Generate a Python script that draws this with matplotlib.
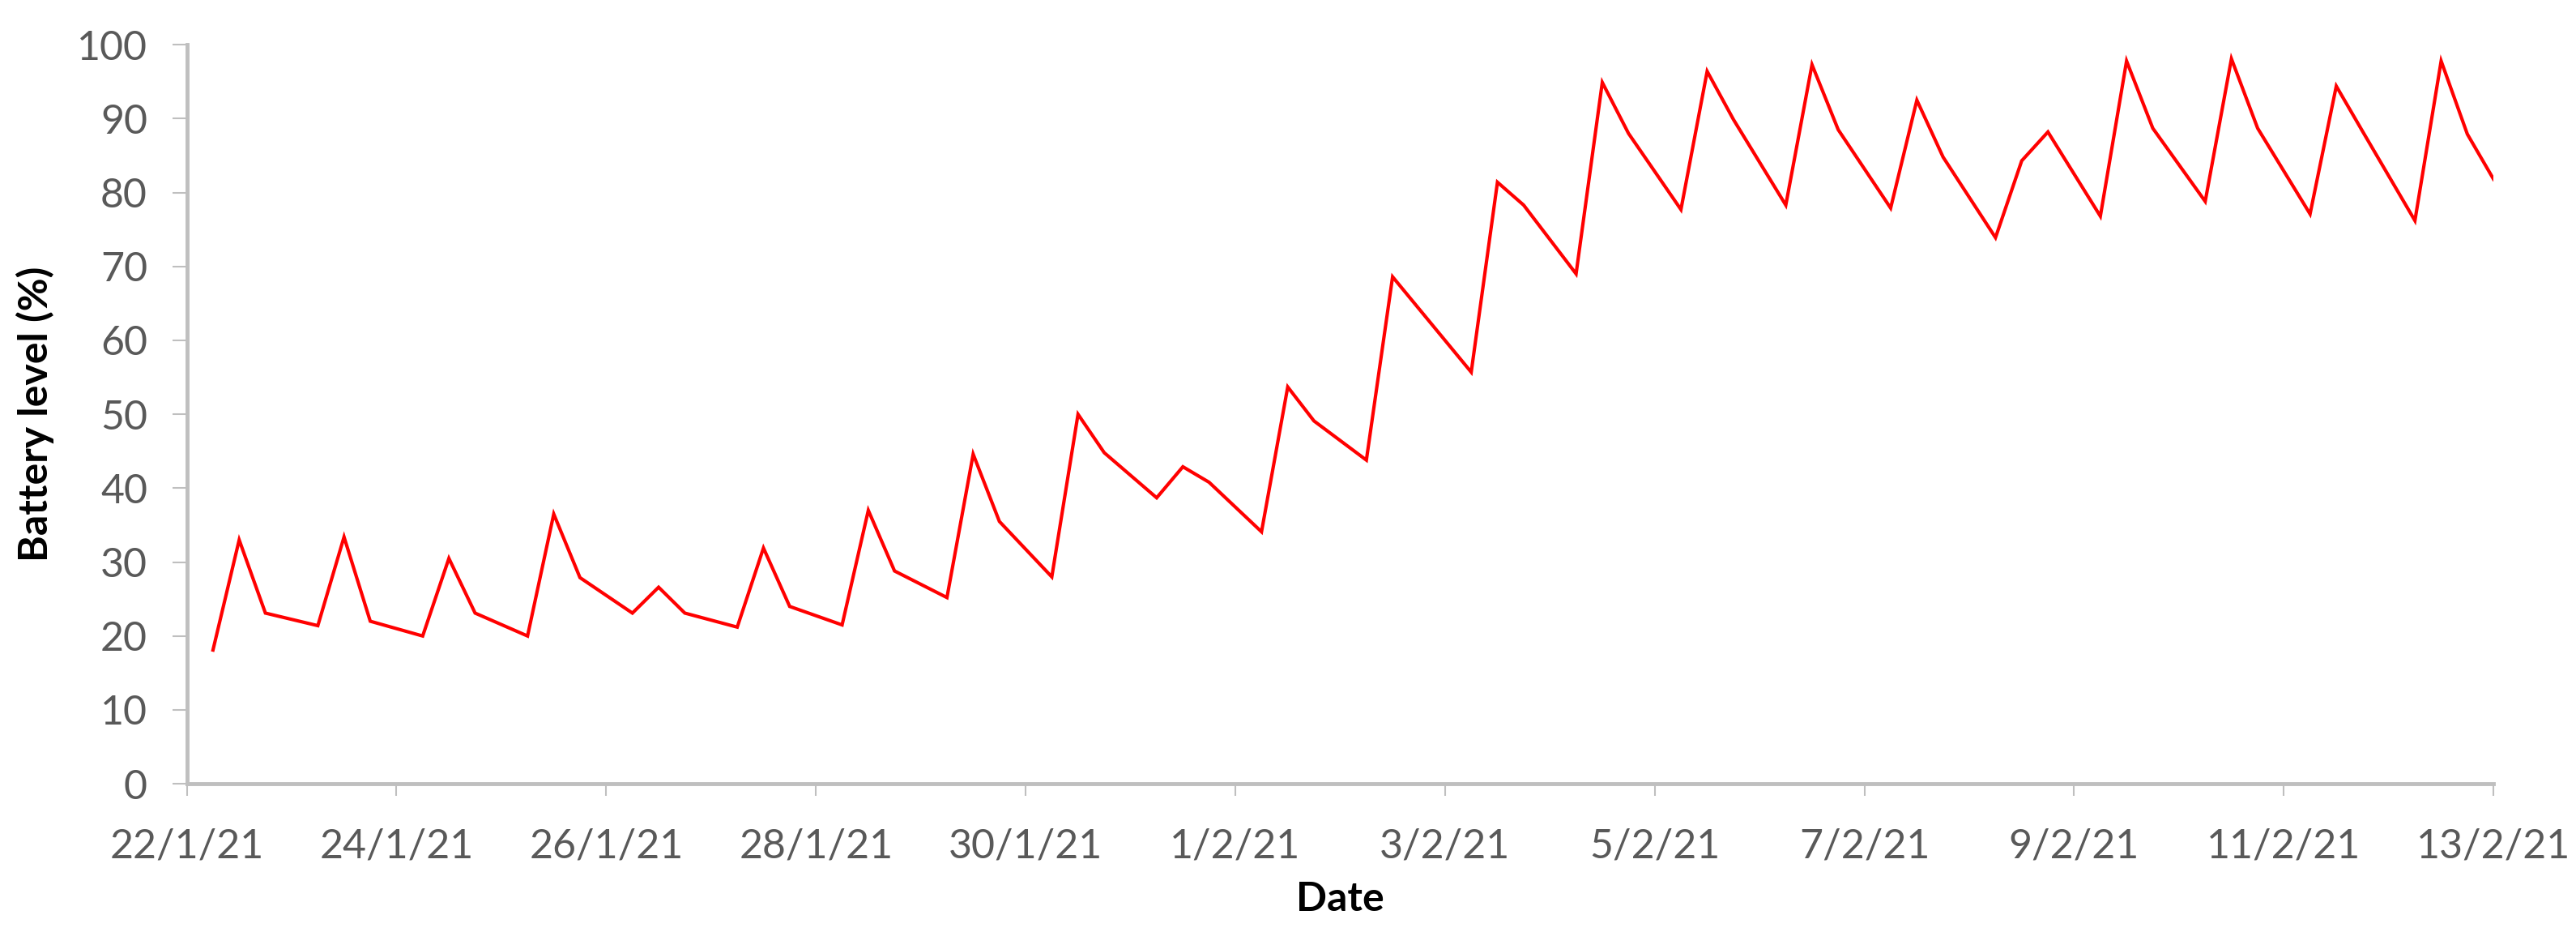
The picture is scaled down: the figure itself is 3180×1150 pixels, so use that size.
import numpy as np
import pandas as pd
import matplotlib
matplotlib.use("Agg")
import matplotlib.pyplot as plt

# readings: days after 22/1/21 00:00 (taken at 6h, 12h, 18h) and battery level
days = [0.25, 0.5, 0.75, 1.25, 1.5, 1.75, 2.25, 2.5, 2.75, 3.25, 3.5, 3.75,
        4.25, 4.5, 4.75, 5.25, 5.5, 5.75, 6.25, 6.5, 6.75, 7.25, 7.5, 7.75,
        8.25, 8.5, 8.75, 9.25, 9.5, 9.75, 10.25, 10.5, 10.75, 11.25, 11.5, 11.75,
        12.25, 12.5, 12.75, 13.25, 13.5, 13.75, 14.25, 14.5, 14.75, 15.25, 15.5, 15.75,
        16.25, 16.5, 16.75, 17.25, 17.5, 17.75, 18.25, 18.5, 18.75, 19.25, 19.5, 19.75,
        20.25, 20.5, 20.75, 21.25, 21.5, 21.75, 22.0]
battery = [18.1, 33.0, 23.1, 21.4, 33.4, 22.0, 20.0, 30.5, 23.1, 20.0, 36.5, 27.9,
           23.1, 26.6, 23.1, 21.2, 31.9, 24.0, 21.5, 37.0, 28.8, 25.2, 44.6, 35.5,
           28.0, 50.0, 44.8, 38.7, 42.9, 40.8, 34.1, 53.7, 49.1, 43.8, 68.6, 64.3,
           55.7, 81.4, 78.3, 69.0, 94.9, 88.0, 77.7, 96.4, 89.9, 78.3, 97.3, 88.5,
           77.9, 92.5, 84.8, 73.9, 84.3, 88.2, 76.8, 97.8, 88.7, 78.8, 98.1, 88.7,
           77.1, 94.4, 88.3, 76.2, 97.8, 87.9, 81.8]

start = pd.Timestamp("2021-01-22")
end = pd.Timestamp("2021-02-13")
dates = start + pd.to_timedelta(days, unit="D")
tick_dates = pd.date_range(start, end, freq="2D")
tick_labels = [f"{d.day}/{d.month}/{d.strftime('%y')}" for d in tick_dates]

plt.rcParams['font.family'] = ['Lato', 'DejaVu Sans']

fig = plt.figure(figsize=(31.8, 11.5), dpi=100)
ax = fig.add_axes([0.0725, 0.159, 0.8955, 0.793])

ax.plot(dates, battery, color="#FF0000", lw=3.0, solid_joinstyle="miter")

ax.set_xlim(start, end)
ax.set_ylim(0, 100)
ax.set_yticks(np.arange(0, 101, 10))
ax.set_xticks(tick_dates)
ax.set_xticklabels(tick_labels)

grey = "#BFBFBF"
for s in ["top", "right"]:
    ax.spines[s].set_visible(False)
for s in ["left", "bottom"]:
    ax.spines[s].set_color(grey)
    ax.spines[s].set_linewidth(3.5)

ax.tick_params(axis="both", colors=grey, labelcolor="#595959", labelsize=36,
               width=1.5)
ax.tick_params(axis="x", length=11, pad=28)
ax.tick_params(axis="y", length=13, pad=22)

ax.set_xlabel("Date", fontsize=36, fontweight="bold", color="black", labelpad=14)
ax.set_ylabel("Battery level (%)", fontsize=36, fontweight="bold", color="black",
              labelpad=20)

fig.savefig("out.png", dpi=100)
